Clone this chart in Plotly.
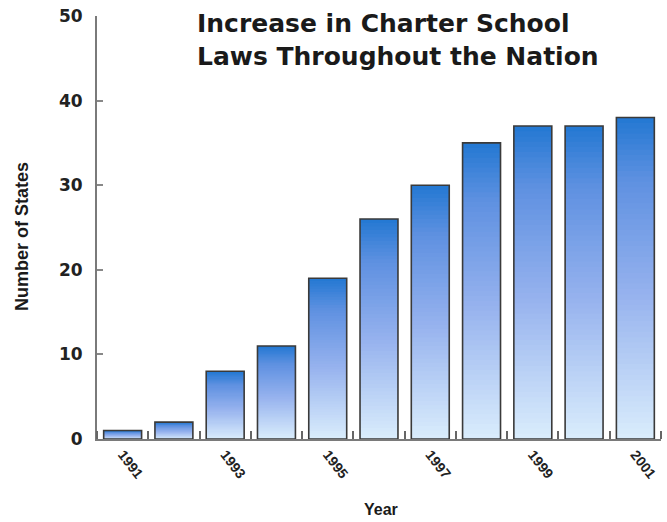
import plotly.graph_objects as go

years = list(range(1991, 2002))
states = [1, 2, 8, 11, 19, 26, 30, 35, 37, 37, 38]
x_tick_years = [1991, 1993, 1995, 1997, 1999, 2001]
y_tick_vals = [0, 10, 20, 30, 40, 50]
title_text = "Increase in Charter School<br>Laws Throughout the Nation"
x_title = "Year"
y_title = "Number of States"

# gradient stops: fraction of bar height -> rgb
grad_stops = [(0.0, (218, 237, 252)), (0.45, (150, 178, 238)), (0.8, (95, 145, 225)), (1.0, (35, 120, 210))]


def color_at(t):
    for (t0, c0), (t1, c1) in zip(grad_stops[:-1], grad_stops[1:]):
        if t0 <= t <= t1:
            f = (t - t0) / (t1 - t0)
            c = [round(a + (b - a) * f) for a, b in zip(c0, c1)]
            return f"rgb({c[0]},{c[1]},{c[2]})"
    c = grad_stops[-1][1]
    return f"rgb({c[0]},{c[1]},{c[2]})"


N = 60
fig = go.Figure()
for i in range(N):
    over = 1.6 if i < N - 1 else 1.0
    fig.add_trace(go.Bar(
        x=years,
        y=[v / N * over for v in states],
        base=[v * i / N for v in states],
        marker=dict(color=color_at((i + 0.5) / N), line=dict(width=0)),
        hoverinfo="skip", showlegend=False,
    ))

fig.add_trace(go.Bar(
    x=years, y=states,
    marker=dict(color="rgba(0,0,0,0)", line=dict(color="#3a3a3a", width=1.6)),
    showlegend=False,
))

BOLD_WIDE = "DejaVu Sans, Verdana, sans-serif"

fig.update_layout(
    width=667, height=522,
    margin=dict(l=97, r=6, t=16, b=83),
    paper_bgcolor="white", plot_bgcolor="white",
    barmode="overlay", bargap=0.26,
    font=dict(family="Liberation Sans, Arial, sans-serif", color="#1a1a1a"),
    xaxis=dict(
        range=[1990.5, 2001.5],
        tickvals=x_tick_years, ticktext=[str(y) for y in x_tick_years],
        tickangle=52, ticks="", showgrid=False, zeroline=False,
        showline=True, linecolor="#7a7a7a", linewidth=2,
        tickfont=dict(size=14, weight="bold", color="#222"),
        minor=dict(tick0=1990.5, dtick=1, ticks="inside", ticklen=8, tickcolor="#666", tickwidth=1.5),
    ),
    yaxis=dict(
        range=[0, 50], tickvals=y_tick_vals,
        ticks="inside", ticklen=6, tickcolor="#888", tickwidth=1.5,
        showgrid=False, zeroline=False,
        showline=True, linecolor="#7a7a7a", linewidth=2,
        tickfont=dict(family=BOLD_WIDE, size=17, weight="bold", color="#222"),
        ticklabelstandoff=9,
    ),
    annotations=[
        dict(text=title_text, xref="paper", yref="paper", x=(195 - 97) / 564, y=(439 - 7) / 423,
             xanchor="left", yanchor="top", align="left", showarrow=False,
             font=dict(family=BOLD_WIDE, size=25, weight="bold", color="#1a1a1a")),
        dict(text=y_title, xref="paper", yref="paper", x=(22 - 97) / 564, y=(439 - 237) / 423,
             xanchor="center", yanchor="middle", textangle=-90, showarrow=False,
             font=dict(family="Liberation Sans Narrow, Arial Narrow, Liberation Sans, sans-serif",
                       size=18, weight="bold", color="#1a1a1a")),
        dict(text=x_title, xref="paper", yref="paper", x=(381 - 97) / 564, y=(439 - 509) / 423,
             xanchor="center", yanchor="middle", showarrow=False,
             font=dict(size=16, weight="bold", color="#1a1a1a")),
    ],
)

fig.write_html("out.html")
